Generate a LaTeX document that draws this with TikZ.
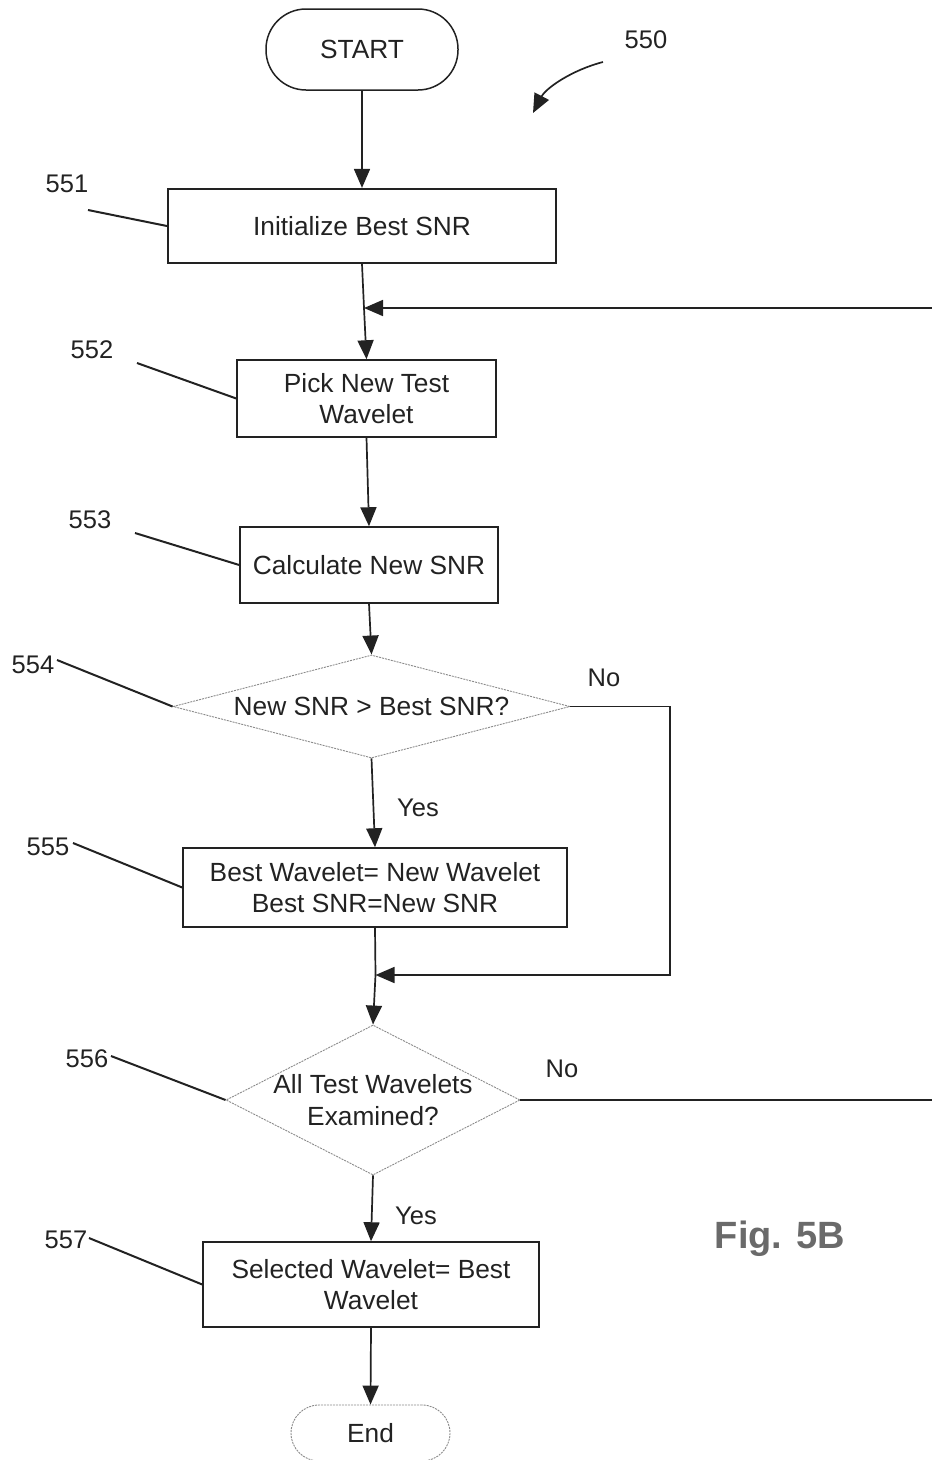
\documentclass[tikz,border=0pt]{standalone}
\usepackage{fontspec}
\setmainfont{Liberation Sans}
\usetikzlibrary{arrows.meta,shapes.geometric}
\definecolor{ink}{HTML}{222222}
\definecolor{lite}{HTML}{8A8A8A}
\definecolor{figgray}{HTML}{6A6A6A}
\begin{document}
\begin{tikzpicture}[x=1pt,y=-1pt,
  txt/.style={font=\fontsize{26.3}{31.5}\selectfont, text=ink, align=center, inner sep=0pt},
  procbox/.style={draw=ink, line width=1.5pt, inner sep=0pt},
  term/.style={draw=ink, line width=1.5pt, rounded corners=40pt, inner sep=0pt},
  termlite/.style={draw=lite, line width=0.9pt, dash pattern=on 2pt off 1pt, rounded corners=28pt, inner sep=0pt},
  dia/.style={draw=lite, diamond, line width=0.9pt, dash pattern=on 2pt off 1pt, inner sep=0pt},
  flow/.style={draw=ink, line width=1.7pt, -{Triangle[length=19pt,width=16pt]}},
  plain/.style={draw=ink, line width=1.7pt},
  leader/.style={draw=ink, line width=2pt},
  reflabel/.style={font=\fontsize{25.5}{30}\selectfont, text=ink, inner sep=0pt}
]
\useasboundingbox (0,0) rectangle (932,1460);

% nodes
\node[term, minimum width=192pt, minimum height=81pt] (start) at (362,49.5) {};
\node[txt] (starttxt) at (start) {START};

\node[procbox, line width=2.2pt, minimum width=388pt, minimum height=74pt] (b551) at (362,226) {};
\node[txt] (t551) at (b551) {Initialize Best SNR};

\node[procbox, minimum width=259pt, minimum height=77pt] (b552) at (366.5,398.5) {};
\node[txt] (t552) at (b552) {Pick New Test\\Wavelet};

\node[procbox, minimum width=258pt, minimum height=76pt] (b553) at (369,565) {};
\node[txt] (t553) at (b553) {Calculate New SNR};

\node[dia, minimum width=397pt, minimum height=103pt] (d554) at (371.5,706.5) {};
\node[txt] (t554) at (d554) {New SNR > Best SNR?};

\node[procbox, minimum width=384pt, minimum height=79pt] (b555) at (375,887.5) {};
\node[txt] (t555) at (b555) {Best Wavelet= New Wavelet\\Best SNR=New SNR};

\node[dia, minimum width=294pt, minimum height=150pt] (d556) at (373,1100) {};
\node[txt] (t556) at (d556) {All Test Wavelets\\Examined?};

\node[procbox, minimum width=336pt, minimum height=85pt] (b557) at (371,1284.5) {};
\node[txt] (t557) at (b557) {Selected Wavelet= Best\\Wavelet};

\node[termlite, minimum width=159pt, minimum height=56pt] (endn) at (370.5,1433) {};
\node[txt] (endtxt) at (endn) {End};

% branch labels
\node[reflabel] (no1) at (604,678) {No};
\node[reflabel] (yes1) at (418,808) {Yes};
\node[reflabel] (no2) at (562,1069) {No};
\node[reflabel] (yes2) at (416,1216) {Yes};

% reference numerals
\node[reflabel] (r550) at (646,40) {550};
\node[reflabel] (r551) at (67,184) {551};
\node[reflabel] (r552) at (92,350) {552};
\node[reflabel] (r553) at (90,520) {553};
\node[reflabel] (r554) at (33,665) {554};
\node[reflabel] (r555) at (48,847) {555};
\node[reflabel] (r556) at (87,1059) {556};
\node[reflabel] (r557) at (66,1240) {557};

\node[font=\bfseries\fontsize{38}{44}\selectfont, text=figgray, inner sep=0pt] (fig) at (780,1239) {Fig. 5B};

% coordinates
\coordinate (j1) at (364,308);
\coordinate (j2) at (375.5,975);
\coordinate (c550a) at (603,62);
\coordinate (c550b) at (533,113);
\coordinate (l551) at (88,210);
\coordinate (l552) at (137,363);
\coordinate (l553) at (135,533);
\coordinate (l554) at (57,660);
\coordinate (l555) at (73,843);
\coordinate (l556) at (111,1056);
\coordinate (l557) at (89,1238);
\coordinate (e554) at (670,706.5);
\coordinate (e554b) at (670,975);
\coordinate (r1) at (945,1100);
\coordinate (r2) at (945,308);

% connectors
\draw[flow] (start.south) -- (b551.north);
\draw[plain] (b551.south) -- (j1);
\draw[flow] (j1) -- (b552.north);
\draw[flow] (b552.south) -- (b553.north);
\draw[flow] (b553.south) -- (d554.north);
\draw[flow] (d554.south) -- (b555.north);
\draw[plain] (b555.south) -- (j2);
\draw[flow] (j2) -- (d556.north);
\draw[flow] (d556.south) -- (b557.north);
\draw[flow] (b557.south) -- (endn.north);

\draw[flow] (d554.east) -- (e554) -- (e554b) -- (j2);
\draw[flow] (d556.east) -- (r1) -- (r2) -- (j1);

% leaders
\draw[leader] (l551) -- (b551.west);
\draw[leader] (l552) -- (b552.west);
\draw[leader] (l553) -- (b553.west);
\draw[leader] (l554) -- (d554.west);
\draw[leader] (l555) -- (b555.west);
\draw[leader] (l556) -- (d556.west);
\draw[leader] (l557) -- (b557.west);

\draw[flow] (c550a) .. controls (572,70) and (546,88) .. (c550b);
\end{tikzpicture}
\end{document}
